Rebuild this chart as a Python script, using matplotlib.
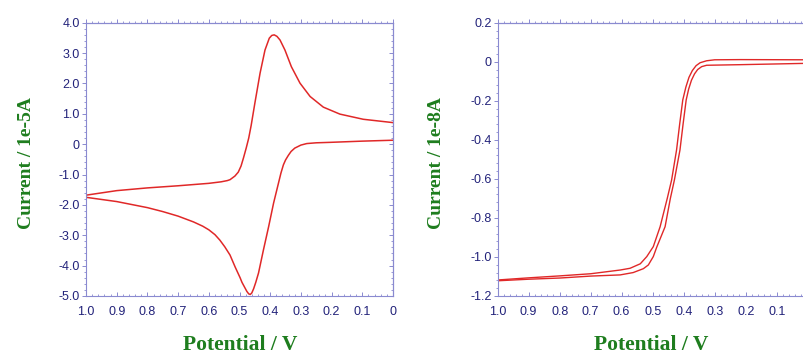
import matplotlib

matplotlib.use("Agg")

import matplotlib.pyplot as plt
from matplotlib.ticker import AutoMinorLocator, FuncFormatter

# cyclic voltammogram (left): potential in V, current in 1e-5 A
cv_upper_x = [1.0, 0.9, 0.8, 0.7, 0.6, 0.56, 0.54, 0.531, 0.515, 0.504, 0.495,
              0.487, 0.478, 0.47, 0.462, 0.45, 0.433, 0.417, 0.403, 0.395,
              0.387, 0.378, 0.368, 0.352, 0.331, 0.303, 0.27, 0.227, 0.173,
              0.097, 0.0]
cv_upper_y = [-1.68, -1.53, -1.44, -1.37, -1.29, -1.24, -1.20, -1.17, -1.05,
              -0.92, -0.72, -0.45, -0.12, 0.20, 0.62, 1.35, 2.34, 3.10, 3.49,
              3.58, 3.60, 3.55, 3.43, 3.10, 2.55, 2.01, 1.57, 1.22, 0.99, 0.82,
              0.71]
cv_lower_x = [0.0, 0.1, 0.205, 0.25, 0.281, 0.3, 0.32, 0.332, 0.341, 0.35,
              0.357, 0.365, 0.373, 0.389, 0.405, 0.422, 0.438, 0.447, 0.454,
              0.46, 0.465, 0.47, 0.476, 0.484, 0.492, 0.498, 0.514, 0.531,
              0.548, 0.564, 0.58, 0.6, 0.62, 0.65, 0.7, 0.75, 0.8, 0.9, 1.0]
cv_lower_y = [0.13, 0.10, 0.06, 0.045, 0.02, -0.03, -0.13, -0.24, -0.37, -0.52,
              -0.68, -0.95, -1.28, -1.94, -2.71, -3.48, -4.24, -4.55, -4.76,
              -4.90, -4.95, -4.93, -4.85, -4.70, -4.55, -4.40, -4.05, -3.65,
              -3.38, -3.16, -2.98, -2.82, -2.70, -2.56, -2.37, -2.22, -2.09,
              -1.89, -1.75]

# steady-state voltammogram (right), current in 1e-8 A
ss_outer_x = [1.0, 0.9, 0.8, 0.7, 0.605, 0.573, 0.54, 0.519, 0.498, 0.476,
              0.453, 0.439, 0.423, 0.413, 0.403, 0.393, 0.383, 0.372, 0.36,
              0.347, 0.326, 0.3, 0.218, 0.0]
ss_outer_y = [-1.118, -1.107, -1.097, -1.086, -1.067, -1.058, -1.035, -0.998,
              -0.947, -0.845, -0.70, -0.606, -0.452, -0.32, -0.196, -0.13,
              -0.08, -0.045, -0.02, -0.005, 0.005, 0.01, 0.011, 0.01]
ss_inner_x = [1.0, 0.9, 0.8, 0.7, 0.605, 0.563, 0.53, 0.514, 0.498, 0.487,
              0.46, 0.443, 0.43, 0.412, 0.402, 0.392, 0.384, 0.375, 0.365,
              0.355, 0.342, 0.326, 0.218, 0.0]
ss_inner_y = [-1.122, -1.114, -1.108, -1.098, -1.092, -1.080, -1.06, -1.041,
              -0.998, -0.95, -0.845, -0.70, -0.606, -0.452, -0.32, -0.196,
              -0.14, -0.095, -0.062, -0.04, -0.025, -0.018, -0.015, -0.008]

x_ticks = [1.0, 0.9, 0.8, 0.7, 0.6, 0.5, 0.4, 0.3, 0.2, 0.1, 0.0]
cv_yticks = [4, 3, 2, 1, 0, -1, -2, -3, -4, -5]
ss_yticks = [0.2, 0.0, -0.2, -0.4, -0.6, -0.8, -1.0, -1.2]

SPINE = "#8a8ad0"
TICKTXT = "#22227a"
GREEN = "#1e7d1e"
RED = "#e02828"


def _fmt(v, pos=None):
    if abs(v) < 1e-9:
        return "0"
    return f"{v:.1f}"


def _style(ax, yticks, ylim):
    ax.set_xlim(1.0, 0.0)
    ax.set_ylim(*ylim)
    ax.set_xticks(x_ticks)
    ax.set_yticks(yticks)
    ax.xaxis.set_major_formatter(FuncFormatter(_fmt))
    ax.yaxis.set_major_formatter(FuncFormatter(_fmt))
    ax.xaxis.set_minor_locator(AutoMinorLocator(5))
    ax.yaxis.set_minor_locator(AutoMinorLocator(5))
    for sp in ax.spines.values():
        sp.set_color(SPINE)
        sp.set_linewidth(0.8)
    ax.tick_params(axis="x", which="both", direction="in", colors=SPINE,
                   labelcolor=TICKTXT, labelsize=9, pad=7)
    ax.tick_params(axis="y", which="both", direction="out", colors=SPINE,
                   labelcolor=TICKTXT, labelsize=9, pad=1.5)
    ax.tick_params(which="major", length=3, width=0.7)
    ax.tick_params(which="minor", length=1.6, width=0.6)
    for lab in ax.get_xticklabels() + ax.get_yticklabels():
        lab.set_family("Liberation Sans")

    top = ax.secondary_xaxis("top")
    top.set_xticks(x_ticks)
    top.xaxis.set_minor_locator(AutoMinorLocator(5))
    top.tick_params(which="both", direction="out", colors=SPINE, labeltop=False)
    top.tick_params(which="major", length=3, width=0.7)
    top.tick_params(which="minor", length=1.6, width=0.6)
    top.spines["top"].set_color(SPINE)

    right = ax.secondary_yaxis("right")
    right.set_yticks(yticks)
    right.yaxis.set_minor_locator(AutoMinorLocator(5))
    right.tick_params(which="both", direction="in", colors=SPINE, labelright=False)
    right.tick_params(which="major", length=3, width=0.7)
    right.tick_params(which="minor", length=1.6, width=0.6)
    right.spines["right"].set_color(SPINE)


fig = plt.figure(figsize=(8.04, 3.51), dpi=100)
ax1 = fig.add_axes([0.107, 0.1567, 0.3818, 0.7786])
ax2 = fig.add_axes([0.619, 0.1567, 0.3856, 0.7786])

ax1.plot(cv_upper_x, cv_upper_y, color=RED, lw=1.1)
ax1.plot(cv_lower_x, cv_lower_y, color=RED, lw=1.1)
_style(ax1, cv_yticks, (-5.0, 4.0))

ax2.plot(ss_outer_x, ss_outer_y, color=RED, lw=1.0)
ax2.plot(ss_inner_x, ss_inner_y, color=RED, lw=1.0)
_style(ax2, ss_yticks, (-1.2, 0.2))

label_font = dict(family="Liberation Serif", weight="bold", color=GREEN)
fig.text(27 / 804, 1 - 163 / 351, "Current / 1e-5A", rotation=90,
         ha="center", va="center", fontsize=14, **label_font)
fig.text(437 / 804, 1 - 163 / 351, "Current / 1e-8A", rotation=90,
         ha="center", va="center", fontsize=14, **label_font)
fig.text(240 / 804, 1 - 335 / 351, "Potential / V", ha="center", va="top",
         fontsize=15.5, **label_font)
fig.text(651 / 804, 1 - 335 / 351, "Potential / V", ha="center", va="top",
         fontsize=15.5, **label_font)

fig.savefig("out.png", dpi=100, facecolor="white")
